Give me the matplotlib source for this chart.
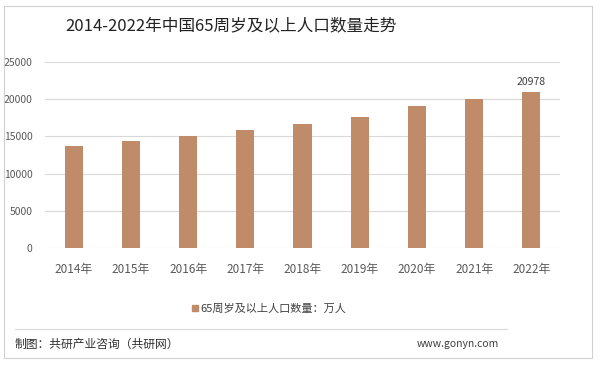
import matplotlib.pyplot as plt
from matplotlib.patches import Rectangle
from matplotlib.lines import Line2D

plt.rcParams['font.family'] = ['Noto Sans CJK SC', 'DejaVu Sans']

years = ['2014年', '2015年', '2016年', '2017年', '2018年', '2019年', '2020年', '2021年', '2022年']
population = [13755, 14386, 15003, 15831, 16658, 17603, 19064, 20056, 20978]
y_ticks = [0, 5000, 10000, 15000, 20000, 25000]

bar_color = '#BF8B69'
grid_color = '#d9d9d9'

fig = plt.figure(figsize=(6, 3.67), dpi=100)
fig.patch.set_facecolor('white')

# outer frame
fig.add_artist(Rectangle((4 / 600, 1 - 358 / 367), 588 / 600, 352 / 367,
                         transform=fig.transFigure, fill=False,
                         edgecolor='#d0d0d0', linewidth=0.8))

ax = fig.add_axes([45 / 600, 1 - 248 / 367, 515 / 600, 186 / 367])
x = range(len(years))
ax.bar(x, population, width=0.315, color=bar_color, zorder=3)
ax.set_xlim(-0.5, len(years) - 0.5)
ax.set_ylim(0, 25000)
ax.set_yticks(y_ticks)
ax.set_yticklabels([str(t) for t in y_ticks])
ax.set_xticks(list(x))
ax.set_xticklabels(years)
ax.grid(axis='y', color=grid_color, linewidth=0.8, zorder=0)
for s in ax.spines.values():
    s.set_visible(False)
ax.tick_params(axis='both', length=0, colors='#595959')
ax.tick_params(axis='y', labelsize=7.5, pad=9)
ax.tick_params(axis='x', labelsize=8.5, pad=11)

# label on the last bar
ax.text(len(years) - 1, population[-1] + 700, str(population[-1]),
        ha='center', va='bottom', fontsize=7.5, color='#404040')

fig.text(231 / 600, 1 - 26 / 367, '2014-2022年中国65周岁及以上人口数量走势',
         ha='center', va='center', fontsize=12, color='#222222')

# legend
handle = Line2D([], [], marker='s', linestyle='none', color=bar_color, markersize=5)
fig.legend([handle], ['65周岁及以上人口数量：万人'], loc='center',
           bbox_to_anchor=(268 / 600, 1 - 309 / 367), frameon=False,
           fontsize=8, handletextpad=0.1, handlelength=0.8,
           labelcolor='#404040')

# footer
fig.add_artist(Line2D([15 / 600, 507 / 600], [1 - 329 / 367, 1 - 329 / 367],
                      transform=fig.transFigure, color='#d9d9d9', linewidth=0.8))
fig.text(15 / 600, 1 - 344 / 367, '制图：共研产业咨询（共研网）',
         ha='left', va='center', fontsize=8.5, color='#303030')
fig.text(417 / 600, 1 - 344 / 367, 'www.gonyn.com',
         ha='left', va='center', fontsize=7.5, color='#404040')

fig.savefig('out.png', dpi=100)
